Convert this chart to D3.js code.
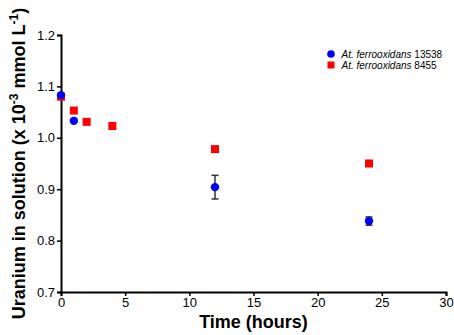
<!DOCTYPE html>
<html><head><meta charset="utf-8">
<script src="https://cdn.jsdelivr.net/npm/d3@7"></script>
<style>body{margin:0;background:#fff}svg{display:block}text{font-family:"Liberation Sans",Arial,sans-serif}</style>
</head><body>
<svg id="c" width="454" height="335"></svg>
<script>
const seriesNames = ["At. ferrooxidans 13538", "At. ferrooxidans 8455"];
const time13538 = [0, 1, 12, 24];
const val13538 = [1.083, 1.033, 0.904, 0.838];
const err13538 = [0.002, 0.002, 0.023, 0.008];
const time8455 = [0, 1, 2, 4, 12, 24];
const val8455 = [1.080, 1.053, 1.031, 1.023, 0.978, 0.950];
const xTicks = [0, 5, 10, 15, 20, 25, 30];
const yTicks = [0.7, 0.8, 0.9, 1.0, 1.1, 1.2];

const svg = d3.select("#c");
const m = {l: 61, r: 446, t: 35, b: 292};
const x = d3.scaleLinear().domain([0, 30]).range([m.l, m.r]);
const y = d3.scaleLinear().domain([0.7, 1.2]).range([m.b, m.t]);

const xa = svg.append("g").attr("transform", `translate(0,${m.b})`)
  .call(d3.axisBottom(x).tickValues(xTicks).tickFormat(d3.format("d")).tickSizeOuter(0).tickSize(4).tickPadding(2));
const ya = svg.append("g").attr("transform", `translate(${m.l},0)`)
  .call(d3.axisLeft(y).tickValues(yTicks).tickFormat(d3.format(".1f")).tickSizeOuter(0).tickSize(4).tickPadding(2));
[xa, ya].forEach(g => {
  g.select(".domain").attr("stroke", "#000").attr("stroke-width", 2);
  g.selectAll(".tick line").attr("stroke", "#000").attr("stroke-width", 1.5);
  g.selectAll(".tick text").attr("font-size", 13).attr("fill", "#000")
   .style("font-family", '"Liberation Sans",Arial,sans-serif');
});

// Axis titles
svg.append("text").attr("x", (m.l + m.r) / 2).attr("y", 328).attr("text-anchor", "middle")
  .attr("font-size", 18).attr("font-weight", "bold").text("Time (hours)");
const yt = svg.append("text").attr("transform", `translate(25,${(m.t + m.b) / 2}) rotate(-90)`)
  .attr("text-anchor", "middle").attr("font-size", 18).attr("font-weight", "bold");
yt.append("tspan").text("Uranium in solution (x 10");
yt.append("tspan").attr("dy", -7).attr("font-size", 12).text("-3");
yt.append("tspan").attr("dy", 7).text(" mmol L");
yt.append("tspan").attr("dy", -7).attr("font-size", 12).text("-1");
yt.append("tspan").attr("dy", 7).text(")");

// Series 8455 (red squares)
const d8455 = time8455.map((t, i) => ({t, v: val8455[i]}));
svg.append("g").selectAll("rect").data(d8455).join("rect")
  .attr("x", d => x(d.t) - 4).attr("y", d => y(d.v) - 4)
  .attr("width", 8).attr("height", 8).attr("fill", "#ff0000");

// Series 13538 (blue circles with error bars)
const d13538 = time13538.map((t, i) => ({t, v: val13538[i], e: err13538[i]}));
const eb = svg.append("g").attr("stroke", "#333").attr("stroke-width", 1.5);
d13538.forEach(d => {
  eb.append("line").attr("x1", x(d.t)).attr("x2", x(d.t)).attr("y1", y(d.v + d.e)).attr("y2", y(d.v - d.e));
  [d.v + d.e, d.v - d.e].forEach(v => eb.append("line").attr("x1", x(d.t) - 3.5).attr("x2", x(d.t) + 3.5).attr("y1", y(v)).attr("y2", y(v)));
});
svg.append("g").selectAll("circle").data(d13538).join("circle")
  .attr("cx", d => x(d.t)).attr("cy", d => y(d.v)).attr("r", 4.2).attr("fill", "#0000ff");

// Legend
const leg = svg.append("g");
const legY = [54, 65];
leg.append("circle").attr("cx", 331).attr("cy", legY[0]).attr("r", 3.8).attr("fill", "#0000ff");
leg.append("rect").attr("x", 327.5).attr("y", legY[1] - 3.5).attr("width", 7).attr("height", 7).attr("fill", "#ff0000");
seriesNames.forEach((name, i) => {
  const parts = name.split(" ");
  const t = leg.append("text").attr("x", 341.5).attr("y", legY[i] + 3.6).attr("font-size", 10).attr("fill", "#000");
  t.append("tspan").attr("font-style", "italic").text(parts[0] + " " + parts[1]);
  t.append("tspan").text(" " + parts[2]);
});
</script>
</body></html>
